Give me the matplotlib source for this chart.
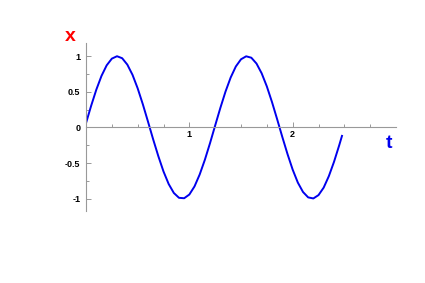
import numpy as np
import matplotlib
matplotlib.use("Agg")
import matplotlib.pyplot as plt
from matplotlib.ticker import FixedLocator, FixedFormatter

# values
t = [0.00, 0.05, 0.10, 0.15, 0.20, 0.25, 0.30, 0.35, 0.40, 0.45,
     0.50, 0.55, 0.60, 0.65, 0.70, 0.75, 0.80, 0.85, 0.90, 0.95,
     1.00, 1.05, 1.10, 1.15, 1.20, 1.25, 1.30, 1.35, 1.40, 1.45,
     1.50, 1.55, 1.60, 1.65, 1.70, 1.75, 1.80, 1.85, 1.90, 1.95,
     2.00, 2.05, 2.10, 2.15, 2.20, 2.25, 2.30, 2.35, 2.40, 2.45, 2.48]
x = [0.06, 0.305, 0.531, 0.724, 0.872, 0.966, 1.000, 0.972, 0.882, 0.739,
     0.549, 0.325, 0.081, -0.168, -0.404, -0.619, -0.795, -0.921, -0.989, -0.995,
     -0.943, -0.829, -0.662, -0.456, -0.222, 0.027, 0.273, 0.503, 0.701, 0.856,
     0.957, 0.999, 0.979, 0.897, 0.760, 0.576, 0.356, 0.114, -0.135, -0.374,
     -0.593, -0.775, -0.907, -0.983, -0.998, -0.951, -0.846, -0.685, -0.484, -0.253, -0.106]

x_ticks = [1, 2]
x_tick_labels = ["1", "2"]
x_minor = [0.25, 0.5, 0.75, 1.25, 1.5, 1.75, 2.25, 2.5, 2.75]
y_ticks = [-1, -0.5, 0, 0.5, 1]
y_tick_labels = ["-1", "-0.5", "0", "0.5", "1"]
y_minor = [-0.75, -0.25, 0.25, 0.75]

plt.rcParams["axes.unicode_minus"] = False
plt.rcParams["font.family"] = "Liberation Sans"

fig = plt.figure(figsize=(4.25, 2.83), dpi=100)
ax = fig.add_axes([86 / 425, (283 - 210.7) / 283, 310 / 425, 168 / 283])
ax.plot(t, x, color="#0000ee", lw=1.4, solid_capstyle="butt")

ax.set_xlim(0, 3.0)
ax.set_ylim(-1.17, 1.19)

for s in ["top", "right"]:
    ax.spines[s].set_visible(False)
ax.spines["left"].set_position(("data", 0))
ax.spines["bottom"].set_position(("data", 0))
for s in ["left", "bottom"]:
    ax.spines[s].set_color("#999999")
    ax.spines[s].set_linewidth(0.8)

ax.xaxis.set_major_locator(FixedLocator(x_ticks))
ax.xaxis.set_major_formatter(FixedFormatter(x_tick_labels))
ax.xaxis.set_minor_locator(FixedLocator(x_minor))
ax.yaxis.set_major_locator(FixedLocator(y_ticks))
ax.yaxis.set_major_formatter(FixedFormatter(y_tick_labels))
ax.yaxis.set_minor_locator(FixedLocator(y_minor))

ax.tick_params(which="both", direction="in", color="#999999", width=0.7,
               labelsize=6.5, pad=2)
ax.tick_params(which="major", length=3.5)
ax.tick_params(which="minor", length=2)
ax.tick_params(axis="y", pad=4)
for lab in ax.get_xticklabels() + ax.get_yticklabels():
    lab.set_fontweight("bold")

fig.text(70.7 / 425, 1 - 36.7 / 283, "x", color="red", fontsize=14,
         fontweight="bold", ha="center", va="center")
fig.text(389 / 425, 1 - 143.3 / 283, "t", color="#0000ee", fontsize=14,
         fontweight="bold", ha="center", va="center")

fig.savefig("out.png", dpi=100)
